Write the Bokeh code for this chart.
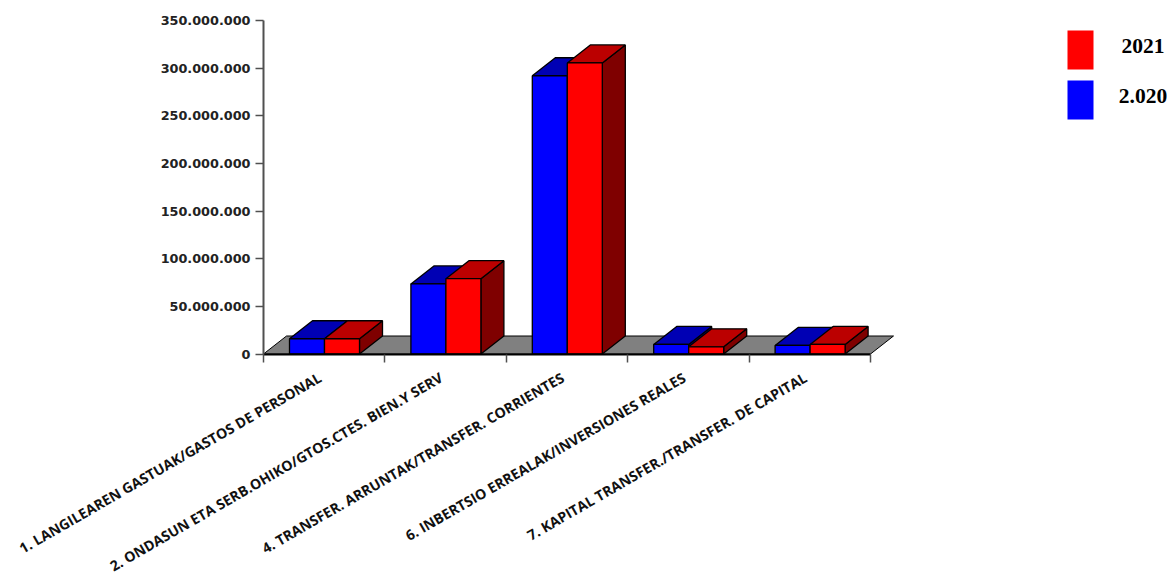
from bokeh.embed import file_html
from bokeh.models import BoxAnnotation, FixedTicker, Label, Range1d
from bokeh.plotting import figure
from bokeh.resources import INLINE

categories = [
    "1. LANGILEAREN GASTUAK/GASTOS DE PERSONAL",
    "2. ONDASUN ETA SERB.OHIKO/GTOS.CTES. BIEN.Y SERV",
    "4. TRANSFER. ARRUNTAK/TRANSFER. CORRIENTES",
    "6. INBERTSIO ERREALAK/INVERSIONES REALES",
    "7. KAPITAL TRANSFER./TRANSFER. DE CAPITAL",
]
values_2020 = [16_000_000, 73_500_000, 292_000_000, 10_000_000, 9_000_000]
values_2021 = [16_000_000, 79_000_000, 305_500_000, 7_500_000, 10_000_000]
y_ticks = [0, 50_000_000, 100_000_000, 150_000_000, 200_000_000, 250_000_000, 300_000_000, 350_000_000]
y_labels = ["0", "50.000.000", "100.000.000", "150.000.000", "200.000.000", "250.000.000", "300.000.000", "350.000.000"]

W, H = 1167, 573
LEFT, BOTTOM_PX = 263, 353.5        # position of the axes' origin inside the canvas
CAT_PX = 121.4
VAL_PX = 333.5 / 350_000_000

DX = 23 / CAT_PX                    # oblique depth in x units
DY = 18 / VAL_PX                    # oblique depth in value units
BAR_W = 35 / CAT_PX
BAR_OFF = 26 / CAT_PX

def px_x(page_x):
    return (page_x - LEFT) / CAT_PX

def px_y(page_y):
    return (BOTTOM_PX - page_y) / VAL_PX

p = figure(width=W, height=H, output_backend="svg", toolbar_location=None,
           x_range=Range1d(px_x(0), px_x(W)),
           y_range=Range1d(px_y(H), px_y(0)),
           min_border_left=0, min_border_right=0, min_border_top=0, min_border_bottom=0)
p.outline_line_color = None
p.grid.visible = False
p.background_fill_color = "white"

# floor
n = len(categories)
p.patch([0, DX, n + DX, n], [0, DY, DY, 0], fill_color="#808080", line_color="black", line_width=1)

def bar(x0, v, front, top, side):
    x1 = x0 + BAR_W
    p.patch([x1, x1 + DX, x1 + DX, x1], [0, DY, v + DY, v], fill_color=side, line_color="black", line_width=1.3)
    p.patch([x0, x0 + DX, x1 + DX, x1], [v, v + DY, v + DY, v], fill_color=top, line_color="black", line_width=1.3)
    p.quad(left=x0, right=x1, bottom=0, top=v, fill_color=front, line_color="black", line_width=1.3)

for i in range(n):
    bar(i + BAR_OFF, values_2020[i], "#0000FF", "#0000B4", "#00007F")
    bar(i + BAR_OFF + BAR_W, values_2021[i], "#FF0000", "#BB0000", "#7F0000")

# axes
ya = p.yaxis[0]
ya.fixed_location = 0
ya.ticker = FixedTicker(ticks=y_ticks)
ya.major_label_overrides = dict(zip(y_ticks, y_labels))
ya.bounds = (0, 350_000_000)
ya.axis_line_color = "#505050"
ya.axis_line_width = 2
ya.major_tick_line_color = "#505050"
ya.major_tick_line_width = 1.5
ya.major_tick_in = 0
ya.major_tick_out = 8
ya.minor_tick_line_color = None
ya.major_label_standoff = 5
ya.major_label_text_font = "DejaVu Sans"
ya.major_label_text_font_style = "bold"
ya.major_label_text_font_size = "12.8px"
ya.major_label_text_color = "#222222"

xa = p.xaxis[0]
xa.fixed_location = 0
xa.ticker = FixedTicker(ticks=list(range(n + 1)))
xa.major_label_text_font_size = "0px"
xa.major_label_text_color = None
xa.bounds = (0, n)
xa.axis_line_color = "black"
xa.axis_line_width = 2
xa.major_tick_line_color = "#505050"
xa.major_tick_line_width = 1.5
xa.major_tick_in = 0
xa.major_tick_out = 8
xa.minor_tick_line_color = None

# rotated category labels, right-aligned under the centre of each category
for i, cat in enumerate(categories):
    p.add_layout(Label(x=i + 0.5, y=0, y_offset=-14, x_offset=-9, text=cat, angle=30, angle_units="deg",
                       text_align="right", text_baseline="top",
                       text_font="Open Sans", text_font_style="bold", text_font_size="14.2px",
                       text_color="#111111"))

# legend
for top_px, color, text in [(30, "#FF0000", "2021"), (80, "#0000FF", "2.020")]:
    p.add_layout(BoxAnnotation(left=px_x(1067), right=px_x(1093), top=px_y(top_px), bottom=px_y(top_px + 39),
                               fill_color=color, fill_alpha=1, line_color=None))
    p.add_layout(Label(x=px_x(1142.5), y=px_y(top_px + 15), text=text, text_align="center", text_baseline="middle",
                       text_font="Liberation Serif", text_font_style="bold", text_font_size="21.5px",
                       text_color="black"))

open("out.html", "w").write(file_html(p, INLINE))
